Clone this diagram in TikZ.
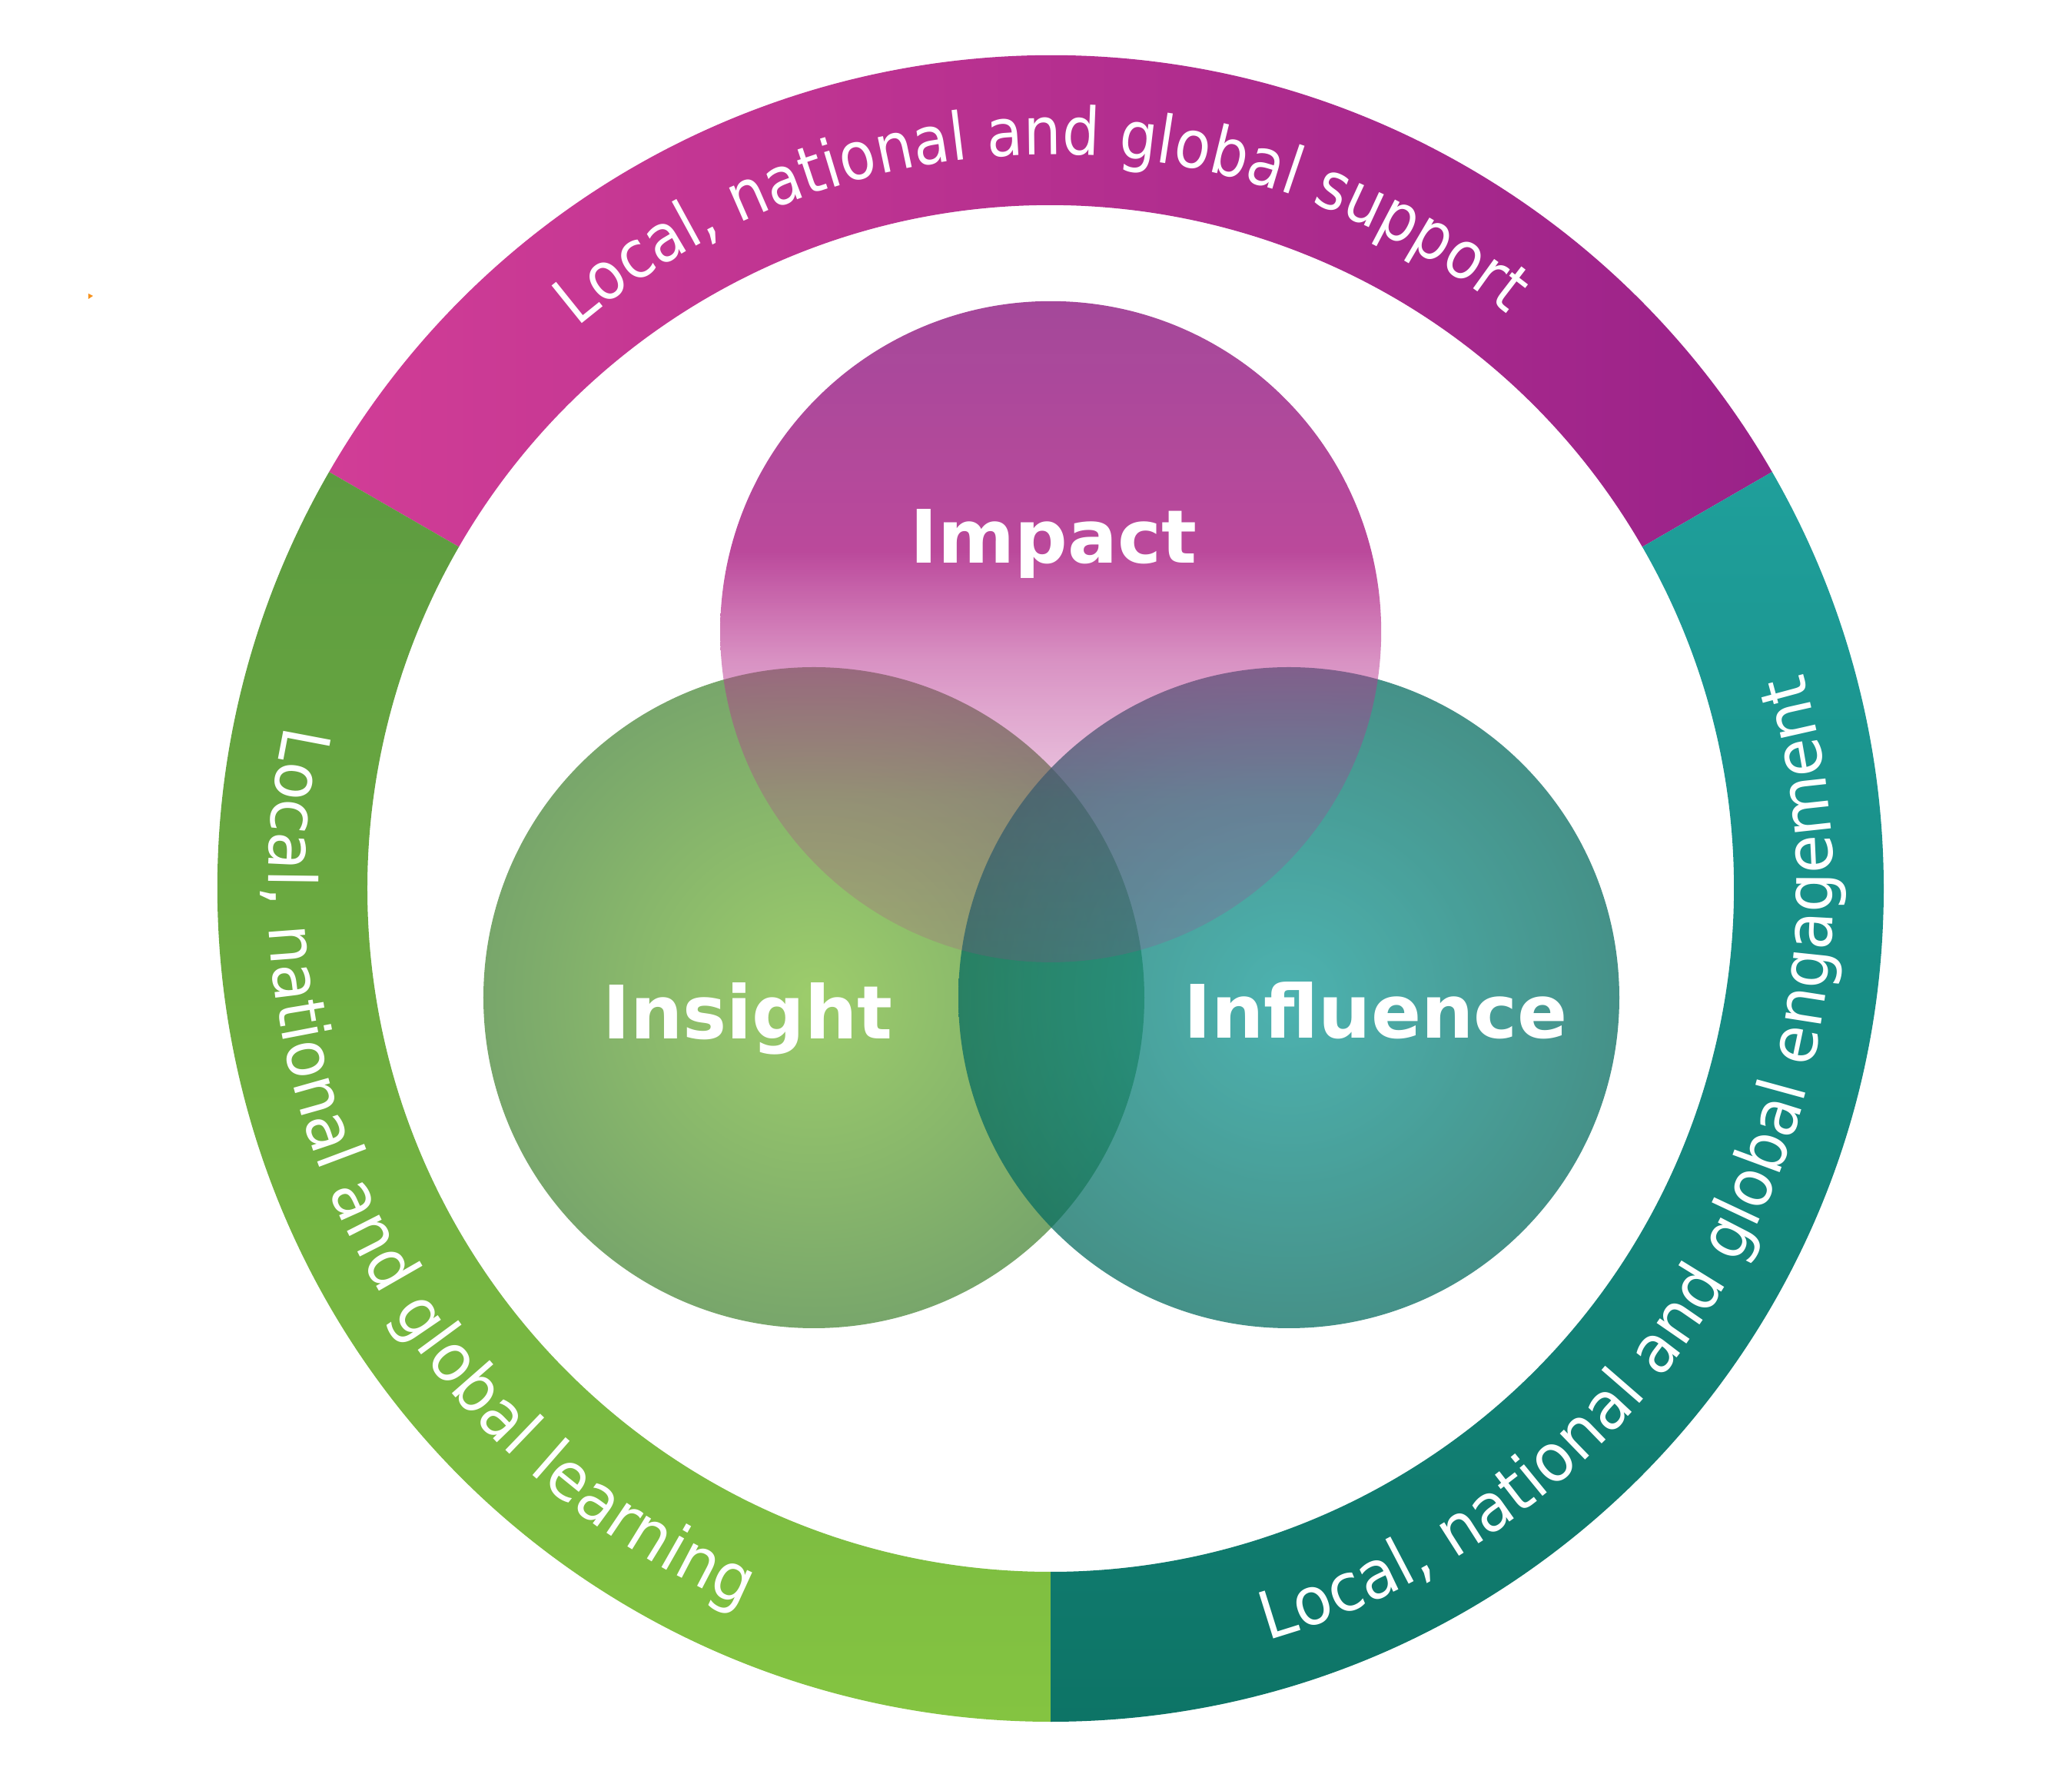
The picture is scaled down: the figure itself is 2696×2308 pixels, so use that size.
\documentclass[tikz,border=0pt]{standalone}
\usepackage{fontspec}
\usetikzlibrary{decorations.text,fadings}
\newfontfamily\ringfamA{DejaVu Sans}[FakeStretch=0.895]
\newfontfamily\ringfamB{DejaVu Sans}[FakeStretch=0.943]
\newfontfamily\ringfamC{DejaVu Sans}[FakeStretch=0.95]
\newfontfamily\lblfam{DejaVu Sans}
\newcommand\ringtxtA{\ringfamA\fontsize{21.5}{25}\selectfont}
\newcommand\ringtxtB{\ringfamB\fontsize{21.5}{25}\selectfont}
\newcommand\ringtxtC{\ringfamC\fontsize{21.5}{25}\selectfont}
% ring colours
\definecolor{topL}{HTML}{D13D96}
\definecolor{topR}{HTML}{9A2289}
\definecolor{grnT}{HTML}{5D9B40}
\definecolor{grnM}{HTML}{70AE42}
\definecolor{grnB}{HTML}{84C441}
\definecolor{tealT}{HTML}{1F9F9B}
\definecolor{tealM}{HTML}{18908A}
\definecolor{tealB}{HTML}{0D7466}
% circles
\definecolor{insIn}{HTML}{9DCD6B}
\definecolor{insOut}{HTML}{78A66B}
\definecolor{inflIn}{HTML}{129996}
\definecolor{inflOut}{HTML}{086D61}
\definecolor{impT}{HTML}{9D3892}
\definecolor{impM}{HTML}{B43691}
\definecolor{impB}{HTML}{B83390}
\definecolor{orangemark}{HTML}{F7931E}
\pgfdeclareverticalshading{impactcol}{100bp}{color(0bp)=(impB); color(50bp)=(impB); color(56bp)=(impM); color(75bp)=(impT); color(100bp)=(impT)}
\pgfdeclareverticalshading{impactalpha}{100bp}{color(0bp)=(white!18!black); color(25bp)=(white!18!black); color(37.5bp)=(white!28!black); color(44bp)=(white!43!black); color(48bp)=(white!54!black); color(51bp)=(white!67!black); color(56bp)=(white!90!black); color(75bp)=(white!92!black); color(100bp)=(white!92!black)}
\pgfdeclarefading{impactfade}{\pgfuseshading{impactalpha}}
\begin{document}
\begin{tikzpicture}[x=0.25pt,y=0.25pt,
  lbl/.style={text=white, inner sep=0pt, anchor=base, font=\lblfam\bfseries\fontsize{24}{28}\selectfont},
  ringtext/.style 2 args={decorate, decoration={text along path, text align=center, text color=white, text={|#1|#2}}}]
\useasboundingbox (-1367,-1152) rectangle (1329,1156);
\fill[white] (-1367,-1152) rectangle (1329,1156);
% ring segments
\shade[left color=topL, right color=topR]
  (150:1084) arc[start angle=150, end angle=30, radius=1084] -- (30:889)
  arc[start angle=30, end angle=150, radius=889] -- cycle;
\shade[top color=grnT, middle color=grnM, bottom color=grnB]
  (150:1084) arc[start angle=150, end angle=270, radius=1084] -- (270:889)
  arc[start angle=270, end angle=150, radius=889] -- cycle;
\shade[top color=tealT, middle color=tealM, bottom color=tealB]
  (-90:1084) arc[start angle=-90, end angle=30, radius=1084] -- (30:889)
  arc[start angle=30, end angle=-90, radius=889] -- cycle;
% circles
\shade[inner color=insIn, outer color=insOut] (-308,-142) circle[radius=430];
\shade[inner color=inflIn, outer color=inflOut, opacity=0.75] (310,-142) circle[radius=430];
\shade[shading=impactcol, path fading=impactfade] (0,334) circle[radius=430];
% labels
\node[lbl] (impact) at (4,423) {Impact};
\node[lbl] (insight) at (-394,-196) {Insight};
\node[lbl] (influence) at (423,-195) {Influence};
% ring texts
\path[ringtext={\ringtxtA}{Local, national and global support}]
  (150.8:955) arc[start angle=150.8, end angle=30.8, radius=955];
\path[ringtext={\ringtxtB}{Local, national and global learning}]
  (147.4:1018) arc[start angle=147.4, end angle=267.4, radius=1018];
\path[ringtext={\ringtxtC}{Local, national and global engagement}]
  (-89.45:1018) arc[start angle=-89.45, end angle=31.55, radius=1018];
% small orange mark
\fill[orangemark] (-1252,774) -- (-1246,771) -- (-1252,767) -- cycle;
\end{tikzpicture}
\end{document}
